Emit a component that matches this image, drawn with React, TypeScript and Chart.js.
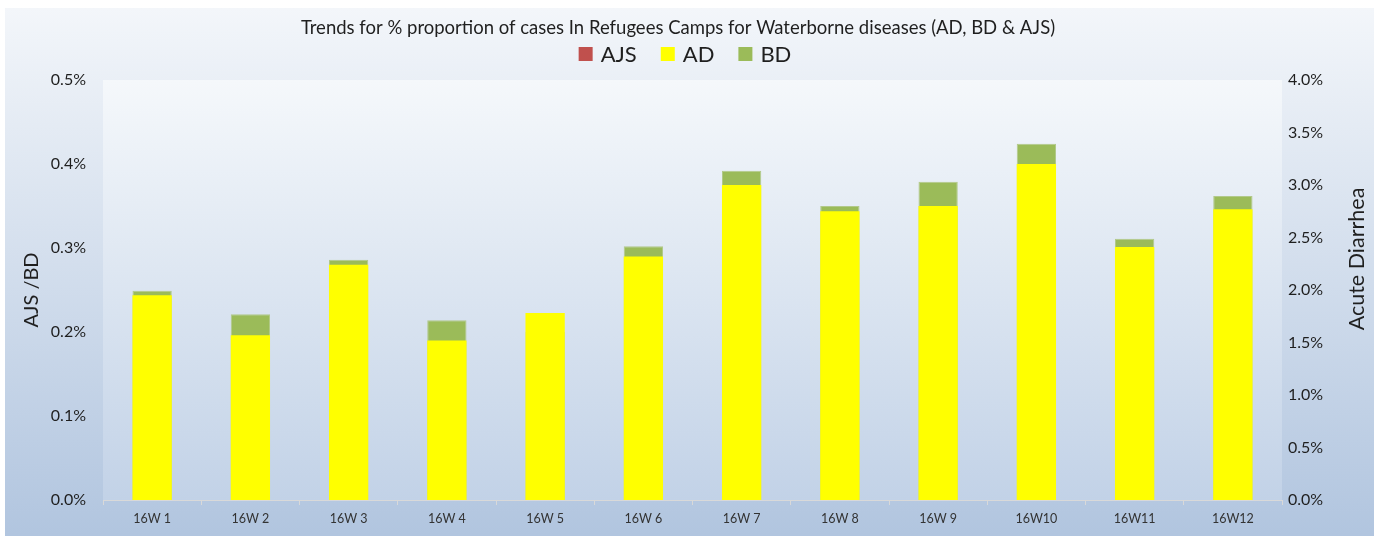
import React, { useEffect, useRef } from 'react';
import { Chart, registerables } from 'chart.js';

Chart.register(...registerables);

const categories = ['16W 1', '16W 2', '16W 3', '16W 4', '16W 5', '16W 6', '16W 7', '16W 8', '16W 9', '16W10', '16W11', '16W12'];
const ajsValues = [0, 0, 0, 0, 0, 0, 0, 0, 0, 0, 0, 0];
const adValues = [1.95, 1.57, 2.24, 1.52, 1.78, 2.32, 3.0, 2.75, 2.8, 3.2, 2.41, 2.77];
const bdValues = [0.249, 0.221, 0.286, 0.214, 0.2, 0.302, 0.392, 0.35, 0.379, 0.424, 0.311, 0.362];
const seriesLabels = ['AJS', 'AD', 'BD'];
const seriesColors = ['#c0504d', '#ffff00', '#9bbb59'];
const chartTitle = 'Trends for % proportion of cases In Refugees Camps for Waterborne diseases (AD, BD & AJS)';
const leftAxisTitle = 'AJS /BD';
const rightAxisTitle = 'Acute Diarrhea';

const FONT = 'Lato, "Noto Sans", sans-serif';
const TEXT = '#1f1f1f';

const decorPlugin = {
  id: 'decor',
  beforeDraw(chart: any) {
    const { ctx, width, height, chartArea } = chart;
    ctx.save();
    let g = ctx.createLinearGradient(0, 0, 0, height);
    g.addColorStop(0, '#f3f6fa');
    g.addColorStop(1, '#b1c5df');
    ctx.fillStyle = g;
    ctx.fillRect(0, 0, width, height);
    const { left, top, right, bottom } = chartArea;
    g = ctx.createLinearGradient(0, top, 0, bottom);
    g.addColorStop(0, '#f5f8fb');
    g.addColorStop(1, '#c2d2e7');
    ctx.fillStyle = g;
    ctx.fillRect(left, top, right - left, bottom - top);
    ctx.restore();
  },
  afterDraw(chart: any) {
    const { ctx } = chart;
    ctx.save();
    ctx.fillStyle = TEXT;
    ctx.textBaseline = 'middle';
    // title
    ctx.font = `18.5px ${FONT}`;
    ctx.textAlign = 'center';
    ctx.fillText(chartTitle, 673, 20);
    // legend
    ctx.font = `22px ${FONT}`;
    const box = 14;
    const gapText = 8;
    const gapItem = 24;
    const ds = chart.data.datasets;
    const widths = ds.map((d: any) => box + gapText + ctx.measureText(d.label).width);
    const total = widths.reduce((a: number, b: number) => a + b, 0) + gapItem * (ds.length - 1);
    let x = 680 - total / 2;
    const ly = 46;
    ctx.textAlign = 'left';
    ds.forEach((d: any, i: number) => {
      ctx.fillStyle = d.backgroundColor;
      ctx.fillRect(x, ly - box / 2, box, box);
      ctx.fillStyle = TEXT;
      ctx.fillText(d.label, x + box + gapText, ly + 1);
      x += widths[i] + gapItem;
    });
    // axis titles
    ctx.textAlign = 'center';
    ctx.font = `20px ${FONT}`;
    ctx.save();
    ctx.translate(27, 282);
    ctx.rotate(-Math.PI / 2);
    ctx.fillText(leftAxisTitle, 0, 0);
    ctx.restore();
    ctx.font = `21.5px ${FONT}`;
    ctx.save();
    ctx.translate(1352, 251);
    ctx.rotate(-Math.PI / 2);
    ctx.fillText(rightAxisTitle, 0, 0);
    ctx.restore();
    ctx.restore();
  },
};

export default function App() {
  const ref = useRef<HTMLCanvasElement>(null);
  useEffect(() => {
    const chart = new Chart(ref.current as HTMLCanvasElement, {
      type: 'bar',
      data: {
        labels: categories,
        datasets: [
          { label: seriesLabels[0], data: ajsValues, backgroundColor: seriesColors[0], yAxisID: 'y', order: 0 },
          { label: seriesLabels[1], data: adValues, backgroundColor: seriesColors[1], yAxisID: 'y1', order: 1 },
          { label: seriesLabels[2], data: bdValues, backgroundColor: seriesColors[2], borderColor: '#b2c98a', borderWidth: 1, yAxisID: 'y', order: 2 },
        ],
      },
      options: {
        responsive: false,
        animation: false,
        layout: { padding: { top: 72, left: 0, right: 0, bottom: 0 } },
        datasets: { bar: { categoryPercentage: 1, barPercentage: 0.4, grouped: false } } as any,
        plugins: {
          legend: { display: false },
          title: { display: false },
          tooltip: { enabled: false },
        },
        scales: {
          x: {
            offset: true,
            grid: { display: true, drawOnChartArea: false, drawTicks: true, tickLength: 5, color: '#d9d9d9', offset: true },
            border: { display: true, color: '#d9d9d9' },
            ticks: { font: { family: FONT, size: 12.5 }, color: '#333333', padding: 6, maxRotation: 0, autoSkip: false },
            afterFit(s: any) { s.height = 36; },
          },
          y: {
            position: 'left',
            min: 0,
            max: 0.5,
            grid: { display: false, drawTicks: false },
            border: { display: false },
            ticks: { stepSize: 0.1, font: { family: FONT, size: 16 }, color: TEXT, padding: 17, callback: (v: any) => Number(v).toFixed(1) + '%' },
            afterFit(s: any) { s.width = 98; },
          },
          y1: {
            position: 'right',
            min: 0,
            max: 4,
            grid: { display: false, drawTicks: false },
            border: { display: false },
            ticks: { stepSize: 0.5, font: { family: FONT, size: 16 }, color: TEXT, padding: 6, callback: (v: any) => Number(v).toFixed(1) + '%' },
            afterFit(s: any) { s.width = 92; },
          },
        },
      },
      plugins: [decorPlugin],
    });
    return () => chart.destroy();
  }, []);
  return (
    <div style={{ position: 'absolute', left: 0, top: 0, width: 1381, height: 536, background: '#ffffff', overflow: 'hidden' }}>
      <canvas ref={ref} width={1369} height={528} style={{ position: 'absolute', left: 5, top: 8, display: 'block' }} />
    </div>
  );
}
